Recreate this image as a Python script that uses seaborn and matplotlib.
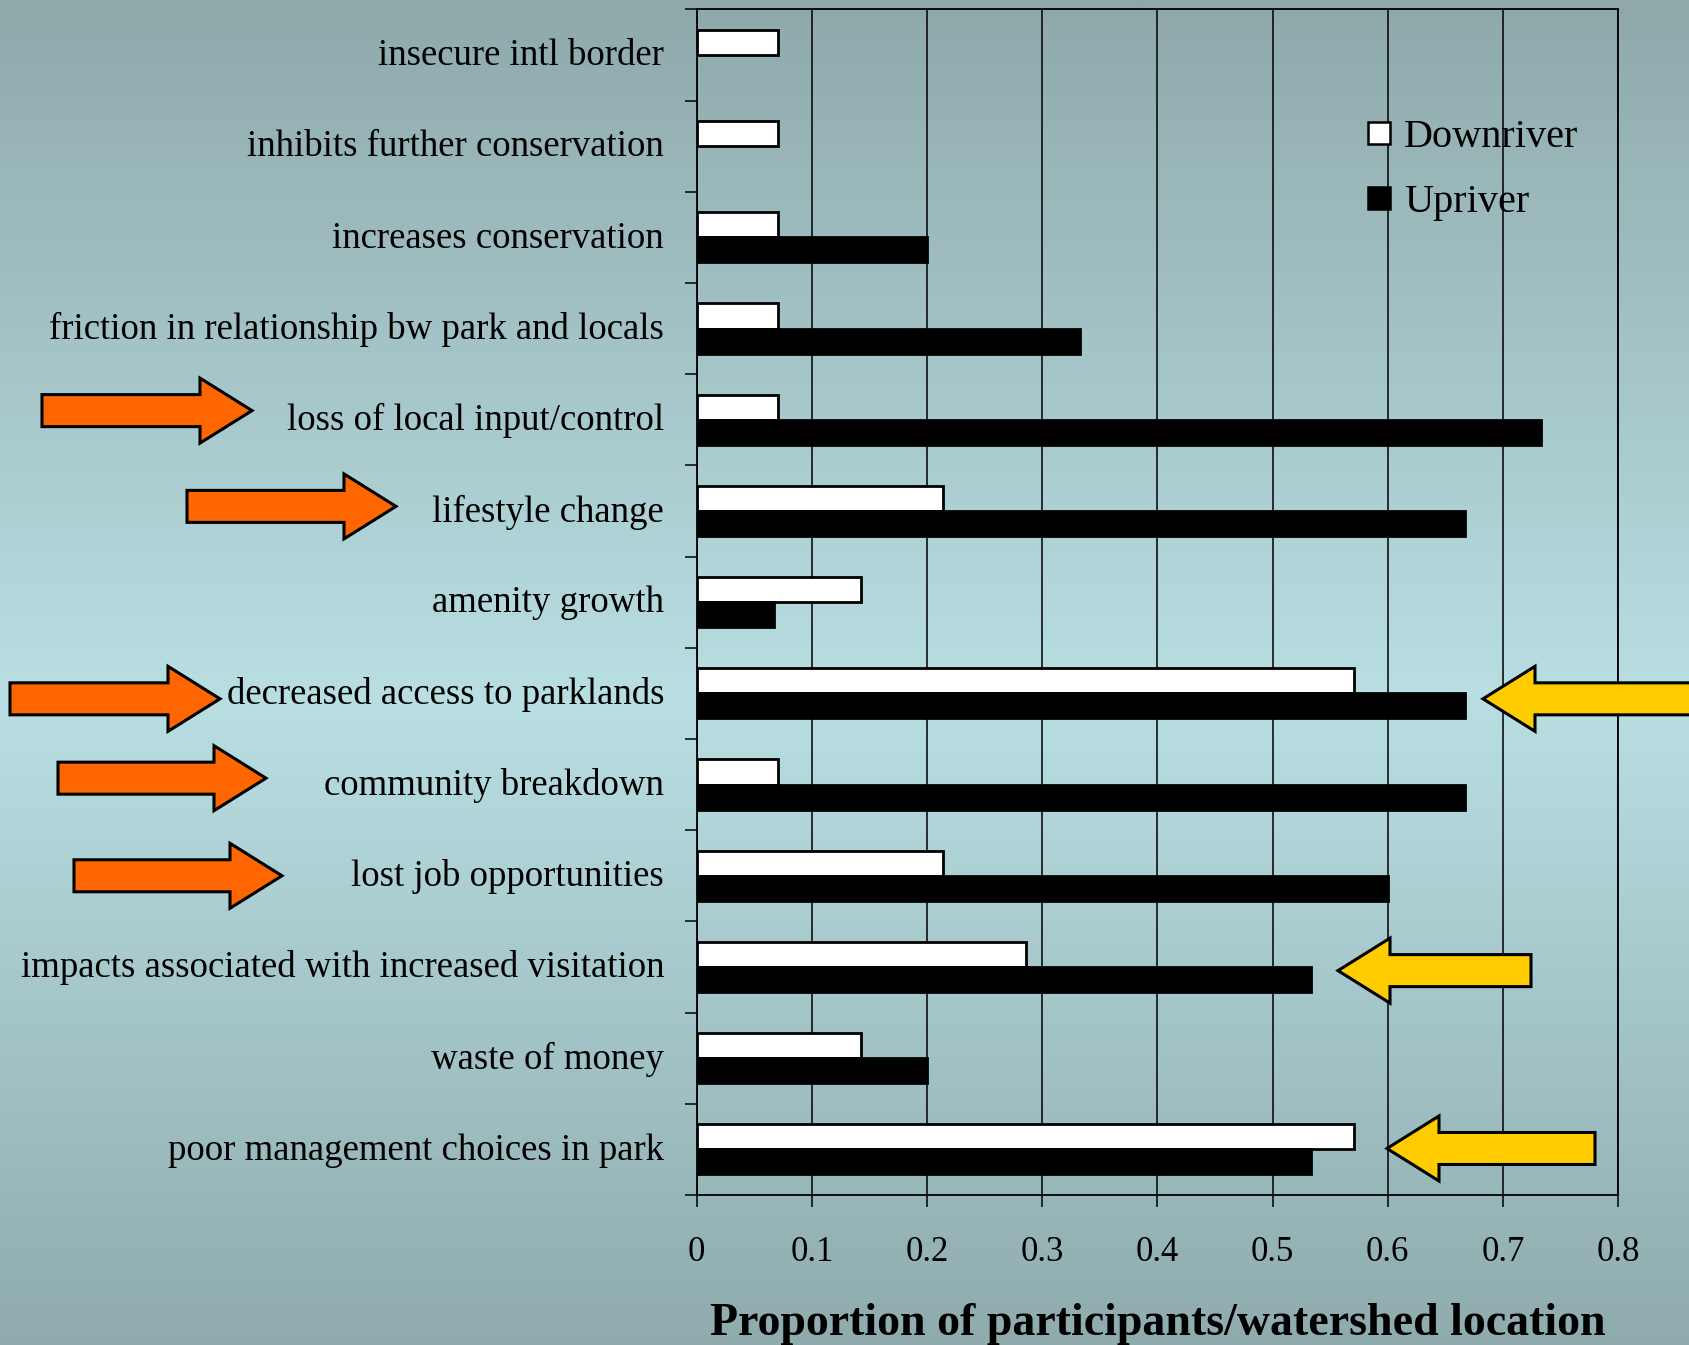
import numpy as np
import pandas as pd
import matplotlib
matplotlib.use("Agg")
import matplotlib.pyplot as plt
import seaborn as sns
from matplotlib.patches import Polygon
from matplotlib.lines import Line2D
from matplotlib.colors import LinearSegmentedColormap
from matplotlib.transforms import blended_transform_factory, ScaledTranslation
from matplotlib.ticker import FixedLocator

# ---- data -----------------------------------------------------------------
categories = [
    "insecure intl border",
    "inhibits further conservation",
    "increases conservation",
    "friction in relationship bw park and locals",
    "loss of local input/control",
    "lifestyle change",
    "amenity growth",
    "decreased access to parklands",
    "community breakdown",
    "lost job opportunities",
    "impacts associated with increased visitation",
    "waste of money",
    "poor management choices in park",
]
downriver = [0.071, 0.071, 0.071, 0.071, 0.071, 0.214, 0.143,
             0.571, 0.071, 0.214, 0.286, 0.143, 0.571]
upriver = [0.0, 0.0, 0.200, 0.333, 0.733, 0.667, 0.067,
           0.667, 0.667, 0.600, 0.533, 0.200, 0.533]
groups = ["Downriver", "Upriver"]
x_ticks = [0, 0.1, 0.2, 0.3, 0.4, 0.5, 0.6, 0.7, 0.8]
x_tick_labels = ["0", "0.1", "0.2", "0.3", "0.4", "0.5", "0.6", "0.7", "0.8"]
axis_title = "Proportion of participants/watershed location"

# rows flagged with arrows: orange ones on the label side, yellow ones on the right
orange_rows = ["loss of local input/control", "lifestyle change",
               "decreased access to parklands", "community breakdown",
               "lost job opportunities"]
yellow_rows = ["decreased access to parklands",
               "impacts associated with increased visitation",
               "poor management choices in park"]

# ---- arrow placement (figure pixels for x, row units for y shift) ----------
orange_tail_px = [42, 187, 10, 58, 74]
orange_tip_px = [252, 396, 220, 266, 282]
orange_shift = [-0.10, -0.05, 0.06, -0.07, 0.0]
yellow_tail_px = [1730, 1531, 1595]
yellow_tip_px = [1483, 1338, 1387]
yellow_shift = [0.06, 0.04, -0.01]

W, H, DPI = 1690, 1345, 100

sns.set_theme(style="ticks")
plt.rcParams["font.family"] = ["Liberation Serif", "DejaVu Serif"]
plt.rcParams["text.color"] = "black"
plt.rcParams["xtick.color"] = "black"
plt.rcParams["ytick.color"] = "black"

fig = plt.figure(figsize=(W / DPI, H / DPI), dpi=DPI)

# vertical background wash: grey-teal at the edges, pale cyan in the middle
bg = fig.add_axes([0, 0, 1, 1], zorder=0)
cmap = LinearSegmentedColormap.from_list(
    "wash", [(0.0, "#8fa9ab"), (0.52, "#b9dfe3"), (1.0, "#8fabad")])
bg.imshow(np.linspace(0, 1, 512).reshape(-1, 1), aspect="auto", cmap=cmap,
          extent=[0, 1, 0, 1], origin="upper")
bg.axis("off")

# main plot area
left, right, top, bottom = 696.7, 1618.0, 9.3, 1195.0
ax = fig.add_axes([left / W, 1 - bottom / H, (right - left) / W, (bottom - top) / H],
                  zorder=1)
ax.patch.set_alpha(0)

df = pd.DataFrame({
    "category": categories * 2,
    "value": downriver + upriver,
    "group": [groups[0]] * len(categories) + [groups[1]] * len(categories),
})

sns.barplot(data=df, y="category", x="value", hue="group", order=categories,
            hue_order=groups, palette={"Downriver": "white", "Upriver": "black"},
            orient="h", width=0.55, edgecolor="black", linewidth=2.0,
            saturation=1, ax=ax, legend=False, errorbar=None)

# zero-length bars carry no visible mark
for bar in ax.patches:
    if bar.get_width() == 0:
        bar.set_visible(False)

ax.set_xlim(0, 0.8)
ax.set_ylim(len(categories) - 0.5, -0.5)
ax.set_xlabel("")
ax.set_ylabel("")

ax.set_xticks(x_ticks)
ax.set_xticklabels(x_tick_labels, fontsize=25)
ax.tick_params(axis="x", which="major", length=8.6, width=1.1, pad=21,
               direction="out")

ax.yaxis.set_minor_locator(FixedLocator(np.arange(-0.5, len(categories), 1.0)))
ax.tick_params(axis="y", which="major", length=0, pad=23.5, labelsize=26.5)
ax.tick_params(axis="y", which="minor", length=8.6, width=1.1, direction="out")
lift = ScaledTranslation(0, 3.0 / DPI, fig.dpi_scale_trans)
for lab in ax.get_yticklabels():
    lab.set_transform(lab.get_transform() + lift)

ax.set_axisbelow(True)
ax.xaxis.grid(True, color="black", linewidth=1.1)
ax.yaxis.grid(False)
for side in ["left", "right", "top", "bottom"]:
    ax.spines[side].set_visible(True)
    ax.spines[side].set_color("black")
    ax.spines[side].set_linewidth(1.3)

handles = [
    Line2D([], [], marker="s", linestyle="none", markersize=16,
           markerfacecolor="white", markeredgecolor="black", markeredgewidth=1.8,
           label=groups[0]),
    Line2D([], [], marker="s", linestyle="none", markersize=16,
           markerfacecolor="black", markeredgecolor="black", markeredgewidth=1.8,
           label=groups[1]),
]
ax.legend(handles=handles, loc="upper left",
          bbox_to_anchor=(1366 / W, 1 - 119 / H), bbox_transform=fig.transFigure,
          frameon=False, fontsize=29, handlelength=0.65, handletextpad=0.3,
          labelspacing=0.68, borderpad=0, borderaxespad=0)

fig.text((left + right) / 2 / W, 10 / H, axis_title, ha="center", va="baseline",
         fontsize=33, fontweight="bold")

# ---- highlight arrows ------------------------------------------------------
ov = fig.add_axes([0, 0, 1, 1], zorder=3)
ov.set_xlim(0, W)
ov.set_ylim(0, 1)
ov.axis("off")
trans = blended_transform_factory(ov.transData, ax.transData)

row_px = (bottom - top) / len(categories)
body_half = 16.0 / row_px
head_half = 32.5 / row_px
head_len = 52.0


def block_arrow(tail, tip, yc, color):
    d = 1.0 if tip > tail else -1.0
    base = tip - d * head_len
    pts = [(tail, yc - body_half), (base, yc - body_half), (base, yc - head_half),
           (tip, yc), (base, yc + head_half), (base, yc + body_half),
           (tail, yc + body_half)]
    ov.add_patch(Polygon(pts, closed=True, facecolor=color, edgecolor="black",
                         linewidth=2.2, joinstyle="miter", transform=trans,
                         clip_on=False))


for name, t0, t1, s in zip(orange_rows, orange_tail_px, orange_tip_px, orange_shift):
    block_arrow(t0, t1, categories.index(name) + s, "#ff6600")
for name, t0, t1, s in zip(yellow_rows, yellow_tail_px, yellow_tip_px, yellow_shift):
    block_arrow(t0, t1, categories.index(name) + s, "#ffcc00")

fig.savefig("out.png", dpi=DPI)
